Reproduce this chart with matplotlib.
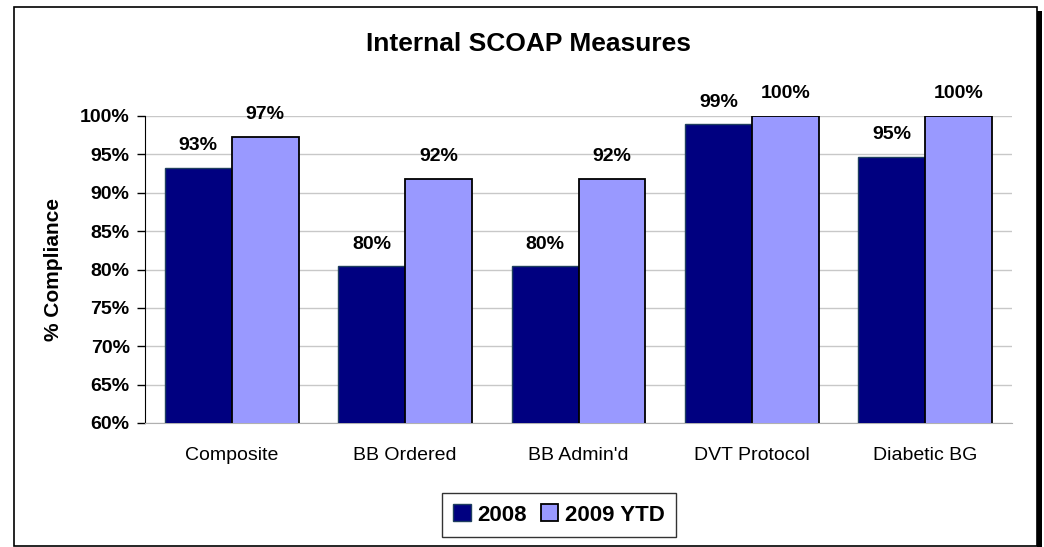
import numpy as np
import matplotlib
matplotlib.use("Agg")
from matplotlib import pyplot as plt
from matplotlib.patches import Rectangle

# Chart data
categories = ["Composite", "BB Ordered", "BB Admin'd", "DVT Protocol", "Diabetic BG"]
values_2008 = [93.2, 80.4, 80.4, 98.9, 94.7]
values_2009 = [97.3, 91.8, 91.8, 100.0, 100.0]
series_names = ["2008", "2009 YTD"]
yticks = [60, 65, 70, 75, 80, 85, 90, 95, 100]

plt.rcParams['font.family'] = ['Liberation Sans', 'DejaVu Sans']

W, H = 1044, 547
fig = plt.figure(figsize=(W / 100, H / 100), dpi=100)

# Outer chart border with shadow
fig.patches.append(Rectangle((1037 / W, 0), 5 / W, 1 - 11 / H, transform=fig.transFigure,
                             facecolor='black', edgecolor='none', zorder=-2))
fig.patches.append(Rectangle((14 / W, 1 / H), 1023 / W, 1 - 8 / H, transform=fig.transFigure,
                             facecolor='white', edgecolor='black', linewidth=1.2, zorder=-1))

ax = fig.add_axes([145 / W, 1 - 423 / H, 867 / W, 307 / H])
ax.set_zorder(2)
ax.set_facecolor('none')

x = np.arange(len(categories))
bw = 0.386
b1 = ax.bar(x - bw / 2, values_2008, bw, color='#000080', edgecolor='#1f3f5f',
            linewidth=1, label=series_names[0], zorder=3)
b2 = ax.bar(x + bw / 2, values_2009, bw, color='#9999FF', edgecolor='black',
            linewidth=1.3, label=series_names[1], zorder=3)

# data labels above each bar
for bars, vals in ((b1, values_2008), (b2, values_2009)):
    for rect, v in zip(bars, vals):
        ax.annotate(f"{round(v):.0f}%", (rect.get_x() + rect.get_width() / 2, v),
                    xytext=(0, 10), textcoords='offset points', ha='center', va='bottom',
                    fontsize=14, fontweight='bold', annotation_clip=False)

ax.set_ylim(60, 100)
ax.set_xlim(-0.5, len(categories) - 0.5)
ax.set_yticks(yticks)
ax.set_yticklabels([f"{t}%" for t in yticks], fontsize=14, fontweight='bold')
ax.set_xticks(x)
ax.set_xticklabels(categories, fontsize=14)
ax.tick_params(axis='x', length=0, pad=17)
ax.tick_params(axis='y', direction='out', length=6, width=1, pad=5)
ax.yaxis.grid(True, color='#c8c8c8', linewidth=1, zorder=0)
ax.set_axisbelow(True)
for s in ('top', 'right'):
    ax.spines[s].set_visible(False)
ax.spines['bottom'].set_color('#b0b0b0')
ax.spines['left'].set_color('black')

ax.set_ylabel("% Compliance", fontsize=15, fontweight='bold', labelpad=12)
fig.text(528 / W, 1 - 44 / H, "Internal SCOAP Measures", ha='center', va='center',
         fontsize=19, fontweight='bold')

leg = fig.legend(handles=[b1, b2], loc='center', bbox_to_anchor=(559 / W, 1 - 515 / H),
                 ncol=2, frameon=True, fancybox=False, edgecolor='black',
                 prop={'size': 16, 'weight': 'bold'}, handlelength=0.8, handleheight=0.8,
                 handletextpad=0.3, columnspacing=0.6, borderpad=0.5)
leg.get_frame().set_linewidth(1)

plt.savefig("out.png", dpi=100)
